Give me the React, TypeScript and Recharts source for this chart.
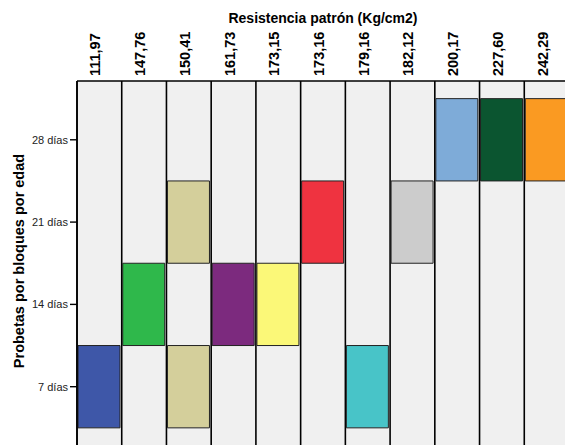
import { Bar, BarChart, CartesianGrid, Cell, XAxis, YAxis } from "recharts";

const resistencias = ["111,97", "147,76", "150,41", "161,73", "173,15", "173,16", "179,16", "182,12", "200,17", "227,60", "242,29"];
// edad (días) of the block drawn in each column
const edadBloque = [7, 14, 21, 14, 14, 21, 7, 21, 28, 28, 28];
// second block in the same column, if any
const edadBloque2: (number | null)[] = [null, null, 7, null, null, null, null, null, null, null, null];
const colores = ["#3e57a8", "#2fb84b", "#d4cf9b", "#7c2a7e", "#fbf878", "#ef3340", "#48c4c8", "#cccccc", "#7eabd8", "#0b5530", "#fa9a22"];
const edadTicks = [7, 14, 21, 28];
const anchoBloque = 7;

const data = resistencias.map((r, i) => ({ resistencia: r, edad: edadBloque[i], edad2: edadBloque2[i] }));

const FONT = "'Liberation Sans', Arial, Helvetica, sans-serif";

function TopTick({ x, y, payload }: { x: number; y: number; payload: { value: string } }) {
  return (
    <text
      x={x + 1}
      y={y}
      transform={`rotate(-90, ${x + 1}, ${y})`}
      textAnchor="start"
      fontFamily={FONT}
      fontWeight="bold"
      fontSize={14.5}
      fill="#000"
    >
      {payload.value}
    </text>
  );
}

function YTitle() {
  const cx = 24;
  const cy = 261;
  return (
    <text
      x={cx}
      y={cy}
      transform={`rotate(-90, ${cx}, ${cy})`}
      textAnchor="middle"
      fontFamily={FONT}
      fontWeight="bold"
      fontSize={14.5}
      fill="#000"
    >
      Probetas por bloques por edad
    </text>
  );
}

export default function App() {
  const n = resistencias.length;
  return (
    <div style={{ position: "fixed", left: 0, top: 0, width: 565, height: 445, overflow: "hidden", background: "#fff" }}>
      <BarChart
        width={580}
        height={475}
        data={data}
        margin={{ top: 0, right: 11, left: 0, bottom: 6 }}
        barGap={-42}
      >
        <CartesianGrid
          horizontal={false}
          fill="#f0f0f0"
          stroke="#000"
          strokeWidth={1.6}
          verticalCoordinatesGenerator={({ offset }: any) =>
            Array.from({ length: n + 1 }, (_, i) => offset.left + (i * offset.width) / n)
          }
        />
        <XAxis
          dataKey="resistencia"
          orientation="top"
          height={81}
          interval={0}
          tickLine={false}
          tickSize={0}
          tickMargin={5}
          axisLine={{ stroke: "#000", strokeWidth: 1.6 }}
          tick={(p: any) => <TopTick {...p} />}
          label={{
            value: "Resistencia patrón (Kg/cm2)",
            position: "insideTop",
            offset: 13,
            style: { fontFamily: FONT, fontWeight: "bold", fontSize: 14, fill: "#000" },
          }}
        />
        <YAxis
          type="number"
          domain={[0, 33]}
          allowDataOverflow
          ticks={edadTicks}
          width={77}
          tickFormatter={(v: number) => `${v} días`}
          tick={{ fontFamily: FONT, fontSize: 11, fill: "#222" }}
          tickSize={7}
          tickMargin={2}
          tickLine={{ stroke: "#000", strokeWidth: 1.4 }}
          axisLine={{ stroke: "#000", strokeWidth: 1.6 }}
          label={() => <YTitle />}
        />
        <Bar
          dataKey={(d: any) => [d.edad - anchoBloque / 2, d.edad + anchoBloque / 2]}
          barSize={42}
          stroke="#222"
          strokeWidth={1}
          isAnimationActive={false}
        >
          {data.map((d, i) => (
            <Cell key={d.resistencia} fill={colores[i]} />
          ))}
        </Bar>
        <Bar
          dataKey={(d: any) => (d.edad2 == null ? null : [d.edad2 - anchoBloque / 2, d.edad2 + anchoBloque / 2])}
          barSize={42}
          stroke="#222"
          strokeWidth={1}
          isAnimationActive={false}
        >
          {data.map((d, i) => (
            <Cell key={d.resistencia} fill={colores[i]} />
          ))}
        </Bar>
      </BarChart>
    </div>
  );
}
